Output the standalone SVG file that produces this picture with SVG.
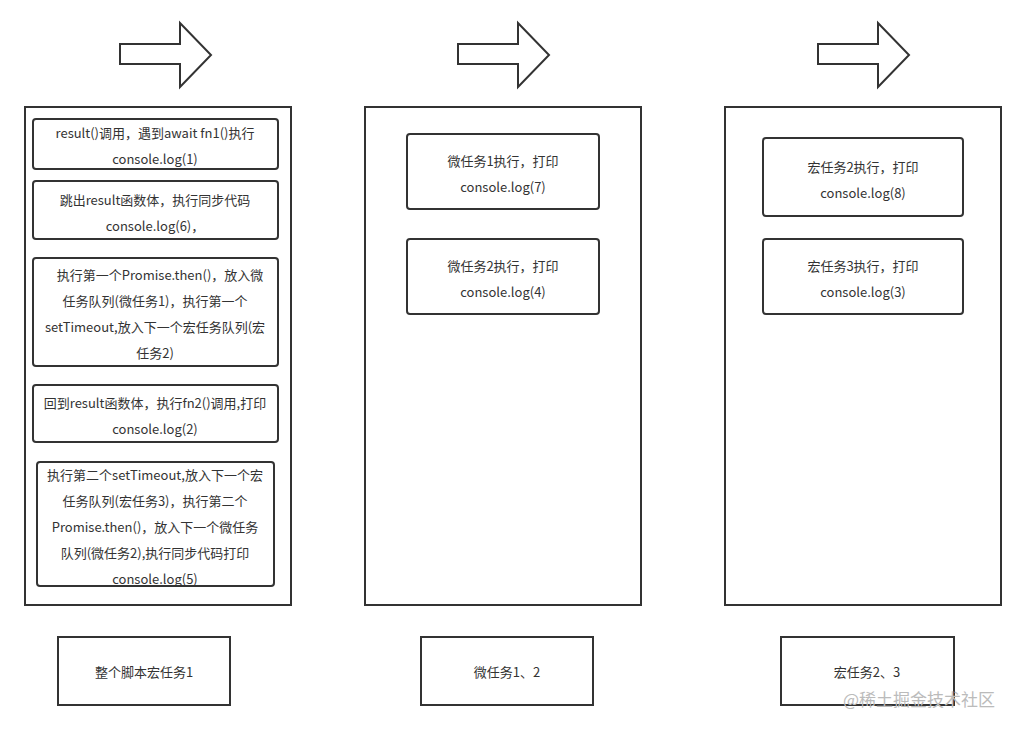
<svg xmlns="http://www.w3.org/2000/svg" width="1026" height="730" viewBox="0 0 1026 730">
<style>
.c{fill:#fff;stroke:#333;stroke-width:2}
.b{fill:#fff;stroke:#333;stroke-width:2}
.a{fill:#fff;stroke:#333;stroke-width:2}
text{font-family:"Noto Sans CJK SC","Liberation Sans",sans-serif;font-size:13px;fill:#333;text-anchor:middle;dominant-baseline:central}
.w{font-size:17px;fill:#bbb;text-anchor:start}
</style>
<rect width="1026" height="730" fill="#fff"/>
<g id="arrows">
<path class="a" d="M120,44H180V23L211,55L180,87V64H120Z"/>
<path class="a" d="M458,44H518V23L549,55L518,87V64H458Z"/>
<path class="a" d="M818,44H878V23L909,55L878,87V64H818Z"/>
</g>
<g id="col1">
<rect class="c" x="25" y="107" width="266" height="498"/>
<g id="n1"><rect class="b" x="33" y="119" width="245" height="50" rx="3"/>
<text x="155" y="132">result()调用，遇到await fn1()执行</text><text x="155" y="158">console.log(1)</text></g>
<g id="n2"><rect class="b" x="33" y="181" width="245" height="58" rx="3"/>
<text x="155" y="199">跳出result函数体，执行同步代码</text><text x="155" y="225">console.log(6)，</text></g>
<g id="n3"><rect class="b" x="33" y="258" width="245" height="108" rx="3"/>
<text x="160" y="274">执行第一个Promise.then()，放入微</text><text x="155" y="300">任务队列(微任务1)，执行第一个</text><text x="155" y="326">setTimeout,放入下一个宏任务队列(宏</text><text x="155" y="352">任务2)</text></g>
<g id="n4"><rect class="b" x="33" y="385" width="245" height="57" rx="3"/>
<text x="155" y="402">回到result函数体，执行fn2()调用,打印</text><text x="155" y="428">console.log(2)</text></g>
<g id="n5"><rect class="b" x="37" y="462" width="237" height="124" rx="3"/>
<text x="155" y="474">执行第二个setTimeout,放入下一个宏</text><text x="155" y="500">任务队列(宏任务3)，执行第二个</text><text x="155" y="526">Promise.then()，放入下一个微任务</text><text x="155" y="552">队列(微任务2),执行同步代码打印</text><text x="155" y="578">console.log(5)</text></g>
</g>
<g id="col2">
<rect class="c" x="365" y="107" width="276" height="498"/>
<g id="m1"><rect class="b" x="407" y="134" width="192" height="75" rx="3"/>
<text x="503" y="160">微任务1执行，打印</text><text x="503" y="186">console.log(7)</text></g>
<g id="m2"><rect class="b" x="407" y="239" width="192" height="75" rx="3"/>
<text x="503" y="265">微任务2执行，打印</text><text x="503" y="291">console.log(4)</text></g>
</g>
<g id="col3">
<rect class="c" x="725" y="107" width="276" height="498"/>
<g id="r1"><rect class="b" x="763" y="138" width="200" height="78" rx="3"/>
<text x="863" y="166">宏任务2执行，打印</text><text x="863" y="192">console.log(8)</text></g>
<g id="r2"><rect class="b" x="763" y="239" width="200" height="75" rx="3"/>
<text x="863" y="265">宏任务3执行，打印</text><text x="863" y="291">console.log(3)</text></g>
</g>
<g id="labels">
<g id="l1"><rect class="b" x="58" y="637" width="172" height="68"/><text x="144" y="671">整个脚本宏任务1</text></g>
<g id="l2"><rect class="b" x="421" y="637" width="172" height="68"/><text x="507" y="671">微任务1、2</text></g>
<g id="l3"><rect class="b" x="781" y="637" width="173" height="68"/><text x="867" y="671">宏任务2、3</text></g>
</g>
<text class="w" x="843" y="698">@稀土掘金技术社区</text>
</svg>
